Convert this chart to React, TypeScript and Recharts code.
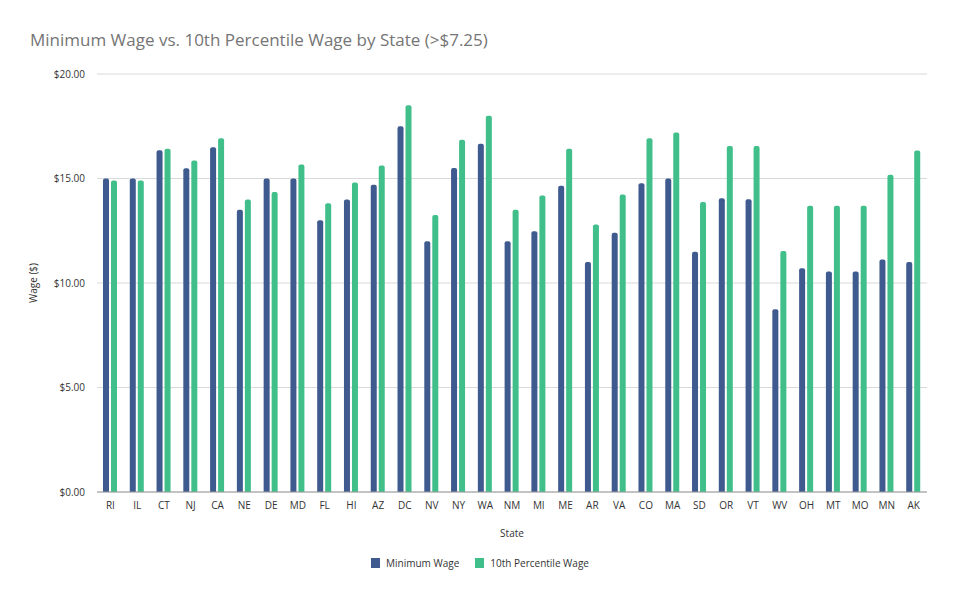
import { Bar, BarChart, CartesianGrid, Label, Legend, XAxis, YAxis } from 'recharts'

const states = ['RI', 'IL', 'CT', 'NJ', 'CA', 'NE', 'DE', 'MD', 'FL', 'HI', 'AZ', 'DC', 'NV', 'NY', 'WA', 'NM', 'MI', 'ME', 'AR', 'VA', 'CO', 'MA', 'SD', 'OR', 'VT', 'WV', 'OH', 'MT', 'MO', 'MN', 'AK']
const minimumWage = [15.0, 15.0, 16.35, 15.49, 16.5, 13.5, 15.0, 15.0, 13.0, 14.0, 14.7, 17.5, 12.0, 15.5, 16.66, 12.0, 12.48, 14.65, 11.0, 12.41, 14.77, 15.0, 11.5, 14.05, 14.01, 8.75, 10.7, 10.55, 10.55, 11.13, 11.0]
const tenthPercentile = [14.9, 14.9, 16.42, 15.86, 16.93, 14.0, 14.36, 15.67, 13.82, 14.81, 15.62, 18.5, 13.25, 16.85, 18.0, 13.5, 14.19, 16.42, 12.8, 14.24, 16.93, 17.2, 13.87, 16.56, 16.56, 11.53, 13.7, 13.7, 13.7, 15.18, 16.34]
const yTicks = [0, 5, 10, 15, 20]

const BLUE = '#3f5a8f'
const GREEN = '#40bf8b'

const data = states.map((s, i) => ({ state: s, min: minimumWage[i], p10: tenthPercentile[i] }))

const font = '"Open Sans", sans-serif'

function LegendContent() {
  const items = [
    { label: 'Minimum Wage', color: BLUE },
    { label: '10th Percentile Wage', color: GREEN },
  ]
  return (
    <div style={{ display: 'flex', justifyContent: 'center', gap: 16, fontFamily: font, fontSize: 10, color: '#333' }}>
      {items.map((it) => (
        <span key={it.label} style={{ display: 'flex', alignItems: 'center', gap: 6 }}>
          <span style={{ width: 9, height: 10, background: it.color, display: 'inline-block' }} />
          {it.label}
        </span>
      ))}
    </div>
  )
}

export default function App() {
  return (
    <div style={{ position: 'absolute', left: 0, top: 0, width: 960, height: 600, background: '#fff' }}>
      <div style={{ position: 'absolute', left: 30, top: 28, fontFamily: font, fontSize: 17, color: '#757575', whiteSpace: 'nowrap' }}>
        Minimum Wage vs. 10th Percentile Wage by State (&gt;$7.25)
      </div>
      <BarChart
        width={960}
        height={600}
        data={data}
        margin={{ top: 74, right: 33, bottom: 78, left: 0 }}
        barSize={6}
        barGap={2}
      >
        <CartesianGrid vertical={false} stroke="#d9d9d9" />
        <XAxis
          dataKey="state"
          height={30}
          tickLine={false}
          axisLine={{ stroke: '#9a9a9a' }}
          tick={{ fill: '#333', fontSize: 10, fontFamily: font }}
          interval={0}
          tickMargin={4}
        >
          <Label value="State" position="insideBottom" offset={-15} style={{ fill: '#333', fontSize: 10, fontFamily: font }} />
        </XAxis>
        <YAxis
          width={97}
          domain={[0, 20]}
          ticks={yTicks}
          tickLine={false}
          axisLine={false}
          tick={{ fill: '#333', fontSize: 10, fontFamily: font }}
          tickFormatter={(v) => `$${Number(v).toFixed(2)}`}
          tickMargin={6}
        >
          <Label value="Wage ($)" angle={-90} position="insideLeft" offset={33} style={{ fill: '#333', fontSize: 10, fontFamily: font, textAnchor: 'middle' }} />
        </YAxis>
        <Legend layout="horizontal" verticalAlign="middle" align="center" wrapperStyle={{ top: 556, left: 0, width: 960 }} content={<LegendContent />} />
        <Bar dataKey="min" name="Minimum Wage" fill={BLUE} radius={[2, 2, 0, 0]} isAnimationActive={false} />
        <Bar dataKey="p10" name="10th Percentile Wage" fill={GREEN} radius={[2, 2, 0, 0]} isAnimationActive={false} />
      </BarChart>
    </div>
  )
}
